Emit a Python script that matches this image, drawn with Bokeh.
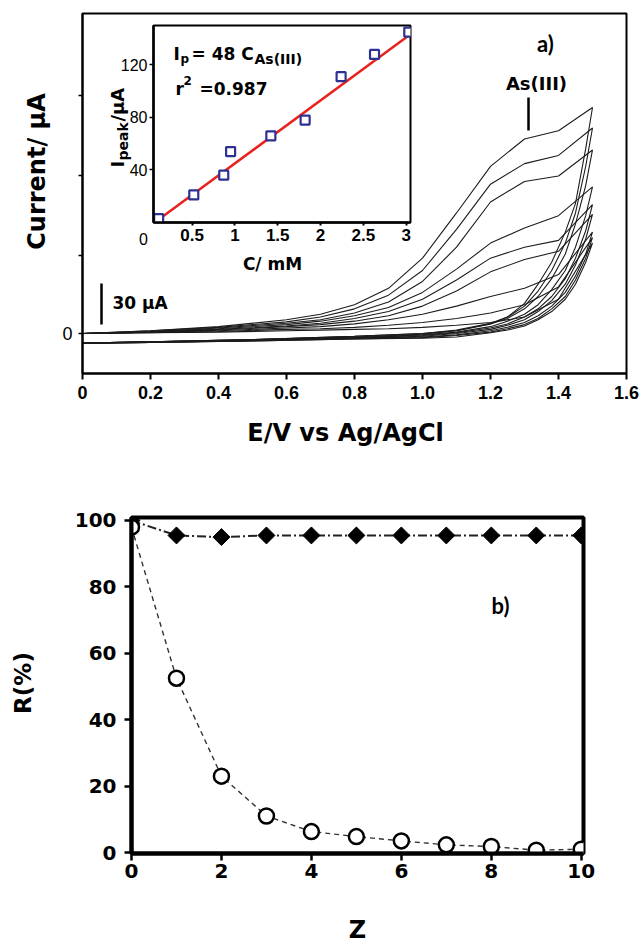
import numpy as np
from bokeh.plotting import figure
from bokeh.models import Range1d, Label, FixedTicker
from bokeh.embed import file_html
from bokeh.resources import INLINE

# ---------------- Panel a : cyclic voltammograms (E in V, I in uA) ----------------
E_fwd = [0.0, 0.2, 0.4, 0.6, 0.7, 0.8, 0.9, 1.0, 1.1, 1.2, 1.3, 1.4, 1.5]
E_rev = [1.5, 1.48, 1.45, 1.42, 1.38, 1.34, 1.3, 1.25, 1.2, 1.1, 1.0, 0.8, 0.5, 0.2, 0.0]

I_fwd_c1 = [0, 0.5, 1, 2, 2.5, 3, 3.5, 4.5, 6, 8, 12, 25, 66]
I_fwd_c2 = [0, 0.5, 1.5, 3, 3.5, 4.5, 6, 8, 11, 15, 21, 34, 70]
I_fwd_c3 = [0, 1, 2, 4, 5, 7, 10, 14, 20, 27, 33, 43, 74]
I_fwd_c4 = [0, 1, 2.5, 5, 6.5, 9, 13, 20, 31, 45, 54, 60, 87]
I_fwd_c5 = [0, 1, 3, 5.5, 7.5, 11, 16, 25, 39, 55, 63, 68, 94]
I_fwd_c6 = [0, 1.5, 3.5, 6.5, 9, 13, 19, 30, 47, 66, 77, 86, 107]
I_fwd_c7 = [0, 1.5, 4, 7.5, 10, 15, 23, 38, 63, 96, 111, 115, 134]
I_fwd_c8 = [0, 2, 4.5, 8.5, 12, 18, 28, 46, 76, 109, 124, 130, 150]
I_fwd_c9 = [0, 2, 5, 10, 14, 21, 33, 55, 88, 122, 142, 148, 165]

I_rev_c1 = [66, 52, 36, 25, 16, 10, 5.5, 2.5, 0.5, -2.5, -3.5, -4, -5.5, -6.5, -7]
I_rev_c2 = [70, 55, 39, 27, 18, 11, 6.5, 3.5, 1, -1.5, -3, -4, -5.5, -6.5, -7]
I_rev_c3 = [74, 58, 42, 30, 20, 13, 8, 4.5, 2, -1, -2.5, -3.5, -5, -6.5, -7]
I_rev_c4 = [87, 69, 50, 36, 24, 16, 10, 6, 3, 0, -2, -3.5, -5, -6.5, -7]
I_rev_c5 = [94, 75, 55, 40, 27, 18, 12, 7, 4, 0.5, -1.5, -3, -5, -6, -7]
I_rev_c6 = [107, 86, 63, 46, 32, 21, 14, 9, 5, 1, -1, -3, -5, -6, -7]
I_rev_c7 = [134, 108, 80, 58, 40, 27, 18, 11, 7, 2, -0.5, -2.5, -4.5, -6, -7]
I_rev_c8 = [150, 122, 88, 66, 46, 31, 20, 12, 7.5, 2.5, 0, -2, -4.5, -6, -7]
I_rev_c9 = [165, 135, 95, 74, 52, 36, 22, 12, 7, 2, 0, -2, -4.5, -6, -7]

cv_fwd = [I_fwd_c1, I_fwd_c2, I_fwd_c3, I_fwd_c4, I_fwd_c5, I_fwd_c6, I_fwd_c7, I_fwd_c8, I_fwd_c9]
cv_rev = [I_rev_c1, I_rev_c2, I_rev_c3, I_rev_c4, I_rev_c5, I_rev_c6, I_rev_c7, I_rev_c8, I_rev_c9]

x_ticks_a = [0, 0.2, 0.4, 0.6, 0.8, 1.0, 1.2, 1.4, 1.6]
x_tick_labels_a = ["0", "0.2", "0.4", "0.6", "0.8", "1.0", "1.2", "1.4", "1.6"]
y_ticks_a = [0, 57, 115, 174]
y_tick_labels_a = ["0", "", "", ""]
scale_bar_uA = 30

# ---------------- Inset : calibration ----------------
conc_mM = [0.11, 0.52, 0.87, 0.95, 1.42, 1.82, 2.24, 2.63, 3.03]
ipeak_uA = [3, 21, 36, 54, 66, 78, 111, 128, 145]
fit_slope = 48
fit_intercept = -3
inset_x_ticks = [0.5, 1, 1.5, 2, 2.5, 3]
inset_x_labels = ["0.5", "1", "1.5", "2", "2.5", "3"]
inset_y_ticks = [40, 80, 120]

# ---------------- Panel b ----------------
Z = [0, 1, 2, 3, 4, 5, 6, 7, 8, 9, 10]
R_diamond = [100, 95.5, 95, 95.5, 95.5, 95.5, 95.5, 95.5, 95.5, 95.5, 95.5]
R_circle = [98, 52.5, 23, 11, 6.3, 4.8, 3.5, 2.3, 1.8, 0.7, 1.0]
x_ticks_b = [0, 2, 4, 6, 8, 10]
y_ticks_b = [0, 20, 40, 60, 80, 100]


def a_xy(px, py):
    return (px - 82) / 340.0, (333 - py) / 1.37


def absolute(left, top):
    return {"position": "absolute", "left": f"{left}px", "top": f"{top}px"}


def base_style(fig):
    fig.xgrid.visible = False
    fig.ygrid.visible = False
    fig.outline_line_color = "black"
    fig.axis.minor_tick_line_color = None
    fig.axis.major_tick_in = 0
    fig.axis.axis_line_color = "black"
    fig.axis.major_tick_line_color = "black"
    fig.axis.major_label_text_color = "black"
    fig.border_fill_alpha = 0


# ================= Panel a =================
pa = figure(width=639, height=460, frame_width=544, frame_height=360,
            x_range=Range1d(0, 1.6), y_range=Range1d(-29.2, 233.6),
            min_border_left=82, min_border_right=13, min_border_top=13, min_border_bottom=87,
            output_backend="svg", toolbar_location=None, styles=absolute(0, 0))
base_style(pa)
pa.background_fill_alpha = 0
pa.outline_line_width = 2
pa.axis.axis_line_width = 2
pa.xaxis.ticker = FixedTicker(ticks=x_ticks_a)
pa.xaxis.major_label_overrides = dict(zip(x_ticks_a, x_tick_labels_a))
pa.xaxis.major_tick_out = 6
pa.xaxis.major_tick_line_width = 2
pa.xaxis.major_label_standoff = 6
pa.xaxis.major_label_text_font = "Liberation Sans"
pa.xaxis.major_label_text_font_style = "bold"
pa.xaxis.major_label_text_font_size = "18px"
pa.yaxis.ticker = FixedTicker(ticks=y_ticks_a)
pa.yaxis.major_label_overrides = dict(zip(y_ticks_a, y_tick_labels_a))
pa.yaxis.major_tick_out = 4
pa.yaxis.major_tick_line_width = 1.5
pa.yaxis.major_label_standoff = 6
pa.yaxis.major_label_text_font = "Liberation Sans"
pa.yaxis.major_label_text_font_size = "18px"

xs = [E_fwd + E_rev for _ in cv_fwd]
ys = [f + r for f, r in zip(cv_fwd, cv_rev)]
pa.multi_line(xs, ys, line_color="#1c1c1c", line_width=1.1)

sbx, sby = a_xy(101, 324)
pa.segment(x0=[sbx], y0=[sby], x1=[sbx], y1=[sby + scale_bar_uA], line_color="black", line_width=2.5)
ax0, ay0 = a_xy(528, 130)
ax1, ay1 = a_xy(528, 97)
pa.segment(x0=[ax0], y0=[ay0], x1=[ax1], y1=[ay1], line_color="black", line_width=2.5)

# ================= Inset =================
ins = figure(width=322, height=262, frame_width=257, frame_height=197,
             x_range=Range1d(0.05, 3.05), y_range=Range1d(0, 150),
             min_border_left=60, min_border_right=5, min_border_top=5, min_border_bottom=60,
             output_backend="svg", toolbar_location=None, styles=absolute(93, 20))
base_style(ins)
ins.background_fill_color = "white"
ins.outline_line_width = 2
ins.axis.axis_line_width = 2.5
ins.xaxis.ticker = FixedTicker(ticks=inset_x_ticks)
ins.xaxis.major_label_overrides = dict(zip(inset_x_ticks, inset_x_labels))
ins.xaxis.major_tick_out = 3
ins.xaxis.major_tick_line_width = 2
ins.xaxis.major_label_standoff = 3
ins.xaxis.major_label_text_font = "Liberation Sans"
ins.xaxis.major_label_text_font_style = "bold"
ins.xaxis.major_label_text_font_size = "17px"
ins.yaxis.ticker = FixedTicker(ticks=inset_y_ticks)
ins.yaxis.major_tick_out = 4
ins.yaxis.major_tick_line_width = 1.5
ins.yaxis.major_label_standoff = 2
ins.yaxis.major_label_text_font = "Liberation Sans"
ins.yaxis.major_label_text_font_size = "16px"

c_fit = [conc_mM[0], conc_mM[-1]]
ins.line(c_fit, [fit_slope * c + fit_intercept for c in c_fit], line_color="#e8231f", line_width=2.5)
ins.scatter(conc_mM, ipeak_uA, marker="square", size=9, fill_color="white",
            line_color="#2f3192", line_width=2.2)

# ================= Panel b =================
pb = figure(width=639, height=489, frame_width=452, frame_height=336,
            x_range=Range1d(0, 10.05), y_range=Range1d(-0.3, 100.9),
            min_border_left=131, min_border_right=56, min_border_top=57, min_border_bottom=96,
            output_backend="svg", toolbar_location=None, styles=absolute(0, 460))
base_style(pb)
pb.background_fill_alpha = 0
pb.outline_line_width = 4
pb.axis.axis_line_width = 4
pb.xaxis.ticker = FixedTicker(ticks=x_ticks_b)
pb.yaxis.ticker = FixedTicker(ticks=y_ticks_b)
pb.axis.major_tick_out = 7
pb.axis.major_tick_line_width = 2.5
pb.axis.major_label_text_font = "DejaVu Sans"
pb.axis.major_label_text_font_style = "bold"
pb.axis.major_label_text_font_size = "20px"
pb.xaxis.major_label_standoff = 3
pb.yaxis.major_label_standoff = 8

pb.line(Z, R_diamond, line_color="#222222", line_width=2, line_dash="9 3 2 3")
pb.line(Z, R_circle, line_color="#333333", line_width=1.4, line_dash="5 4")
pb.scatter(Z, R_diamond, marker="square", angle=np.pi / 4, size=12,
           fill_color="black", line_color="black")
pb.scatter(Z, R_circle, marker="circle", size=15, fill_color="white",
           line_color="black", line_width=2.5)

# ================= Text layer (page pixel coordinates) =================
tx = figure(width=639, height=949, x_range=Range1d(0, 639), y_range=Range1d(949, 0),
            x_axis_type=None, y_axis_type=None, min_border=0,
            output_backend="svg", toolbar_location=None, styles=absolute(0, 0))
tx.outline_line_color = None
tx.background_fill_alpha = 0
tx.border_fill_alpha = 0


def lab(x, y, text, size, font="DejaVu Sans", style="bold", align="center",
        baseline="middle", angle=0.0):
    tx.add_layout(Label(x=x, y=y, text=text, text_font=font,
                        text_font_size=f"{size}px", text_font_style=style,
                        text_align=align, text_baseline=baseline, angle=angle,
                        text_color="black"))


# panel a
lab(36, 171, "Current/ \u03bcA", 24, angle=np.pi / 2)
lab(345, 432, "E/V vs Ag/AgCl", 24)
lab(112, 302, "30 \u03bcA", 17, align="left")
lab(536, 83, "As(III)", 18)
lab(545, 43, "a)", 22, font="Lato")
# inset
lab(143, 238, "0", 16, font="Liberation Sans", style="normal")
lab(272, 263, "C/ mM", 17)
lab(173, 53, "I", 17, align="left", baseline="alphabetic")
lab(180, 58, "p", 12, align="left", baseline="alphabetic")
lab(191, 53, "= 48 C", 17, align="left", baseline="alphabetic")
lab(254, 58, "As(III)", 14, align="left", baseline="alphabetic")
lab(175, 88, "r", 17, align="left", baseline="alphabetic")
lab(183, 80, "2", 12, align="left", baseline="alphabetic")
lab(199, 88, "=0.987", 17, align="left", baseline="alphabetic")
lab(117, 167, "I", 18, align="left", baseline="alphabetic", angle=np.pi / 2)
lab(122, 160, "peak", 14, align="left", baseline="alphabetic", angle=np.pi / 2)
lab(117, 121, "/\u03bcA", 18, align="left", baseline="alphabetic", angle=np.pi / 2)
# panel b
lab(22.5, 682.5, "R(%)", 23, angle=np.pi / 2)
lab(357, 929, "Z", 24)
lab(500, 605, "b)", 22, font="Lato")

open("out.html", "w").write(file_html([pa, pb, ins, tx], INLINE))
